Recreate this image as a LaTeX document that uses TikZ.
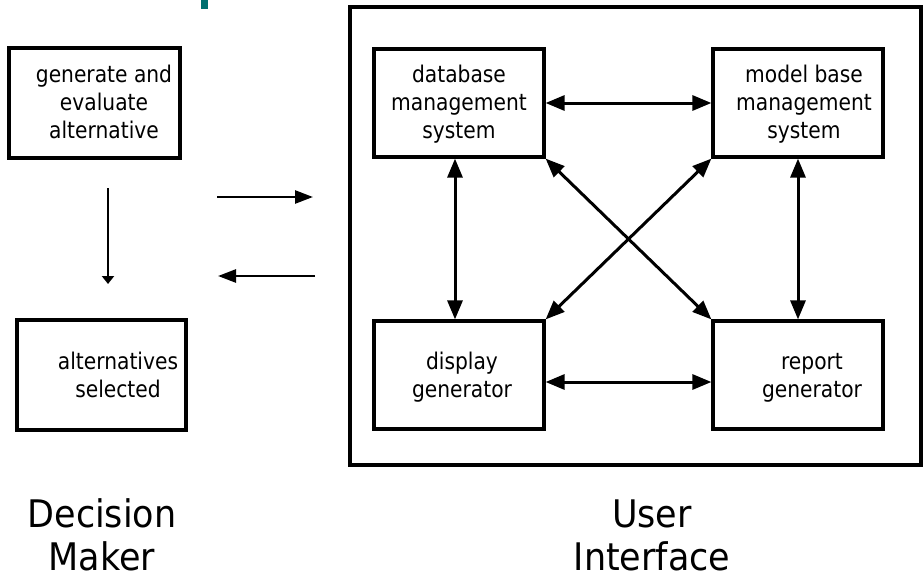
\documentclass[tikz,border=0pt]{standalone}
\usepackage{fontspec}
\setmainfont{DejaVu Sans}
\newfontfamily\boxfont[FakeStretch=0.88]{DejaVu Sans}
\newfontfamily\bigfont[FakeStretch=0.92]{DejaVu Sans}
\usetikzlibrary{arrows.meta,calc}
\definecolor{tealmark}{RGB}{0,112,112}
\begin{document}
\begin{tikzpicture}[x=1pt,y=-1pt,
  box/.style={draw, line width=3.2pt, minimum width=170pt, minimum height=108pt, inner sep=0pt},
  txt/.style={font=\boxfont\fontsize{23}{28}\selectfont, align=center, anchor=base, inner sep=0pt},
  big/.style={font=\bigfont\fontsize{38}{43}\selectfont, align=center, anchor=base, inner sep=0pt},
  dbl/.style={line width=3pt, {Triangle[length=19pt,width=15pt]}-{Triangle[length=19pt,width=15pt]}},
  one/.style={line width=2.6pt, -{Triangle[length=18pt,width=13pt]}},
  small/.style={line width=2.4pt, -{Triangle[length=8pt,width=12pt]}}
]
\useasboundingbox (0,0) rectangle (924,581);
\fill[tealmark] (201,0) rectangle (208,9);

% Decision maker side
\node[box, minimum width=171pt, minimum height=110pt] (gen) at (94.5,103) {};
\node[txt] (gentxt) at (104,138) {generate and\\evaluate\\alternative};
\node[box, minimum width=169pt, minimum height=110pt] (alt) at (101.5,375) {};
\node[txt] (alttxt) at (118,397) {alternatives\\selected};
\coordinate (d1) at (108,188);
\coordinate (d2) at (108,284);
\draw[small] (d1) -- (d2);
\coordinate (r1) at (217,197);
\coordinate (r2) at (313,197);
\draw[one] (r1) -- (r2);
\coordinate (l1) at (315,276);
\coordinate (l2) at (218,276);
\draw[one] (l1) -- (l2);

% User interface
\node[box, minimum width=571pt, minimum height=458pt] (ui) at (635.5,236) {};
\node[box] (dbms) at (459,103) {};
\node[box] (mbms) at (798,103) {};
\node[box] (disp) at (459,375) {};
\node[box] (rep) at (798,375) {};
\node[txt] (dbmstxt) at (459,138) {database\\management\\system};
\node[txt] (mbmstxt) at (804,138) {model base\\management\\system};
\node[txt] (disptxt) at (462,397) {display\\generator};
\node[txt] (reptxt) at (812,397) {report\\generator};

\draw[dbl] (dbms.east) -- (mbms.west);
\draw[dbl] ([yshift=-7pt]disp.east) -- ([yshift=-7pt]rep.west);
\draw[dbl] ([xshift=-4pt]dbms.south) -- ([xshift=-4pt]disp.north);
\draw[dbl] (mbms.south) -- (rep.north);
\draw[dbl] (dbms.south east) -- (rep.north west);
\draw[dbl] (mbms.south west) -- (disp.north east);

% Labels
\node[big] (dm) at (102,570) {Decision\\Maker};
\node[big] (uil) at (652,570) {User\\Interface};
\end{tikzpicture}
\end{document}
